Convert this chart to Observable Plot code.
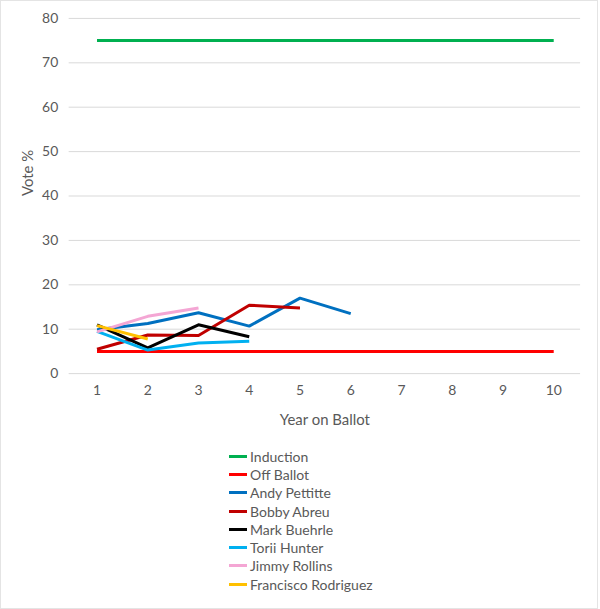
<!DOCTYPE html>
<html><head><meta charset="utf-8">
<script src="https://cdn.jsdelivr.net/npm/d3@7"></script>
<script src="https://cdn.jsdelivr.net/npm/@observablehq/plot@0.6"></script>
<style>
html,body{margin:0;padding:0;background:#fff;}
#wrap{width:598px;height:609px;box-sizing:border-box;border:1px solid #e4e4e4;position:relative;overflow:hidden;font-family:Lato,"Open Sans",sans-serif;}
#chart{position:absolute;left:-1px;top:-1px;}
#chart svg{display:block;}
#legend{position:absolute;left:228px;top:446px;}
.item{display:flex;align-items:center;height:18.3px;font-size:14px;color:#595959;}
.sw{width:18px;height:3px;margin-right:3px;}
</style></head><body>
<div id="wrap"><div id="chart"></div><div id="legend"></div></div>
<script>
const years = [1,2,3,4,5,6,7,8,9,10];
const seriesNames = ["Induction","Off Ballot","Andy Pettitte","Bobby Abreu","Mark Buehrle","Torii Hunter","Jimmy Rollins","Francisco Rodriguez"];
const seriesColors = ["#00b050","#ff0000","#0070c0","#c00000","#000000","#00b0f0","#f4a6d4","#ffc000"];
const induction = [75,75,75,75,75,75,75,75,75,75];
const offBallot = [5,5,5,5,5,5,5,5,5,5];
const andyPettitte = [9.9,11.3,13.7,10.7,17.0,13.5];
const bobbyAbreu = [5.5,8.7,8.6,15.4,14.8];
const markBuehrle = [11.0,5.8,11.0,8.3];
const toriiHunter = [9.5,5.3,6.9,7.3];
const jimmyRollins = [9.4,12.9,14.8];
const franciscoRodriguez = [10.8,7.8];
const yTicks = [0,10,20,30,40,50,60,70,80];

const seriesValues = [induction, offBallot, andyPettitte, bobbyAbreu, markBuehrle, toriiHunter, jimmyRollins, franciscoRodriguez];
const rows = [];
seriesNames.forEach((name, i) => {
  seriesValues[i].forEach((v, j) => rows.push({series: name, year: years[j], value: v}));
});

const chart = Plot.plot({
  width: 600, height: 440,
  marginLeft: 69, marginRight: 17, marginTop: 18, marginBottom: 65,
  style: {fontFamily: "Lato, 'Open Sans', sans-serif", fontSize: "14px", color: "#595959", background: "transparent"},
  x: {type: "point", domain: years, padding: 0.5},
  y: {domain: [0, 80]},
  color: {domain: seriesNames, range: seriesColors},
  marks: [
    Plot.ruleY(yTicks, {stroke: "#d9d9d9", strokeWidth: 1}),
    Plot.axisY(yTicks, {tickSize: 0, tickPadding: 11, label: null, fill: "#595959", fontSize: 14}),
    Plot.axisX(years, {tickSize: 0, tickPadding: 12, label: null, fill: "#595959", fontSize: 14}),
    Plot.text(["Vote %"], {frameAnchor: "left", dx: -41, rotate: -90, fill: "#595959", fontSize: 15}),
    Plot.text(["Year on Ballot"], {frameAnchor: "bottom", dy: 52, fill: "#595959", fontSize: 15}),
    Plot.line(rows, {x: "year", y: "value", z: "series", stroke: "series", strokeWidth: 3, strokeLinejoin: "round", strokeLinecap: "butt"})
  ]
});
document.getElementById("chart").appendChild(chart);

const legend = d3.select("#legend");
seriesNames.forEach((name, i) => {
  const it = legend.append("div").attr("class", "item");
  it.append("div").attr("class", "sw").style("background", seriesColors[i]);
  it.append("span").text(name);
});
</script>
</body></html>
